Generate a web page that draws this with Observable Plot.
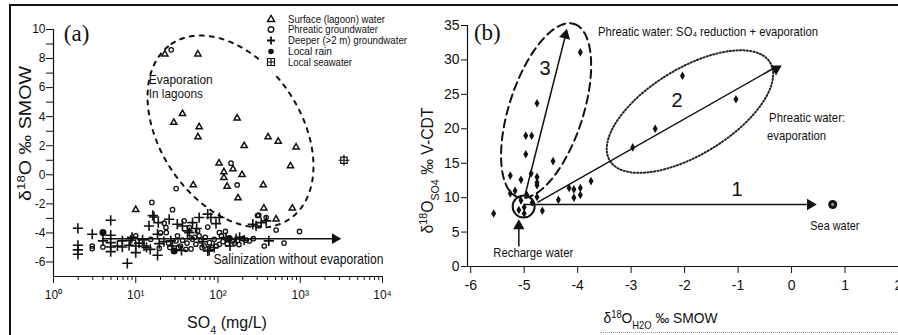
<!DOCTYPE html>
<html><head><meta charset="utf-8">
<script src="https://cdn.jsdelivr.net/npm/d3@7"></script>
<script src="https://cdn.jsdelivr.net/npm/@observablehq/plot@0.6"></script>
<style>
body{margin:0;background:#fff;}
#fig{position:relative;width:898px;height:335px;overflow:hidden;background:#fff;font-family:"Liberation Sans",Arial,sans-serif;color:#111;}
#fig svg{position:absolute;top:0;max-width:none;overflow:visible;background:transparent;}
.ft{position:absolute;left:9px;top:4px;width:889px;border-top:2.5px solid #111;}
.fl{position:absolute;left:9px;top:4px;height:331px;border-left:2.5px solid #111;}
.fb{position:absolute;left:600px;top:332px;width:298px;border-top:1px dotted #999;}
</style></head>
<body><div id="fig"><div class="ft"></div><div class="fl"></div><div class="fb"></div></div>
<script>
// ---------- Panel (a) data: [SO4 mg/L, δ18O ‰ SMOW] ----------
const surfaceWater = [[22.6,8.3],[57,8.3],[37,4.2],[29,3.6],[59,3.3],[57,2.6],[171,3.9],[208,2.0],[406,2.6],[540,2.3],[890,1.9],[760,0.6],[103,0.8],[118,0.2],[152,0.4],[118,-0.2],[196,0.0],[129,-0.8],[50,-0.7],[355,-0.7],[175,-1.6],[10,-2.4],[361,-2.3],[800,-2.3],[509,-3.05]];
const phreaticGW = [[27,8.6],[144,0.8],[171,-0.7],[31,-0.95],[15.7,-1.9],[28,-2.4],[302,-2.8],[509,-3.8],[980,-3.9],[636,-4.7],[365,-4.9],
 [2.96,-4.9],[2.96,-5.08],[3.99,-4.97],[10,-4.2],[15.2,-4.44],[19.3,-5.05],[22.2,-3.33],[23.3,-3.63],[23.5,-3.98],[32.2,-4.2],[30.8,-4.55],[38.8,-3.17],[40.7,-5.13],[44.8,-3.63],[56.4,-3.86],[59,-4.2],[75,-3.6],[104,-3.98],[123,-3.9],[49,-4.44],[53.8,-4.78],[62,-4.55],[68,-4.9],[78.6,-4.67],[90,-4.44],[104,-4.78],[151,-4.55],[240,-4.55],[313,-2.78],[385,-2.94],
 [26,-5.0],[35,-4.9],[45,-4.3],[85,-5.0],[115,-4.6],[180,-4.8],[270,-4.4],[200,-4.4],[20,-4.0],[25,-4.7],[33,-5.0],[37,-4.5],[42,-4.7],[47,-5.1],[52,-4.3],[64,-5.0],[70,-4.3],[95,-4.9],[110,-4.2],[130,-4.75],[160,-4.7],[220,-4.5]];
const deeperGW = [[1.98,-3.68],[1.98,-4.85],[1.98,-5.17],[1.98,-5.47],[2.96,-4.09],[3.99,-4.55],[4.96,-3.13],[4.96,-4.16],[4.96,-4.67],[4.96,-4.97],[4.96,-5.29],[5.98,-4.9],[6.87,-4.55],[6.87,-4.97],[7.9,-6.09],[8.3,-4.85],[8.7,-4.5],[10,-4.9],[10,-5.36],[12.1,-4.48],[12.6,-4.9],[14.5,-3.52],[15,-5.13],[16.7,-2.9],[18.4,-4.09],[19.3,-4.74],[18.4,-5.54],[18.8,-3.29],[25.5,-3.06],[26.7,-4.55],[37,-3.52],[42.6,-3.86],[49,-3.29],[59,-2.94],[44.8,-3.98],[75,-2.71],[82,-2.94],[94.5,-3.36],[104,-2.94],[75,-5.24],[125,-4.32],[166,-4.4],[183,-4.3],[208,-4.5],[415,-4.55],[265,-3.4],[290,-3.52],[335,-3.29],[385,-3.17],[16.1,-2.8],[78,-5.2],
 [9,-4.3],[11,-4.7],[13.5,-5.0],[22,-4.6],[28,-4.9],[32,-3.4],[36,-5.2],[55,-3.7],[65,-4.6],[90,-5.0],[140,-4.9]];
const localRain = [[3.99,-3.98],[29.3,-5.24],[137,-4.39]];
const localSeawater = [[3400,1.0]];
const xTicksA = [1,10,100,1000,10000];
const xTickLabelsA = ["10⁰","10¹","10²","10³","10⁴"];
const yTicksA = [-6,-5,-4,-3,-2,-1,0,1,2,3,4,5,6,7,8,9,10];
const salinizationArrow = [{x1:3.9,y1:-4.4,x2:2650,y2:-4.4}];
const ellipseA = {cx:141.9, cy:2.98, a:105.6, b:70.3, angle:124};
const legendLabels = ["Surface (lagoon) water","Phreatic groundwater","Deeper (>2 m) groundwater","Local rain","Local seawater"];

// ---------- Panel (b) data: [δ18O H2O, δ18O SO4] ----------
const phreaticB = [[-5.57,7.7],[-5.26,13.2],[-5.26,10.6],[-5.17,11.0],[-5.06,12.6],[-5.06,9.6],[-5.0,8.6],[-5.0,7.7],[-4.97,16.3],[-4.97,19.0],[-4.86,19.0],[-4.76,23.7],[-4.87,13.5],[-4.76,13.0],[-4.76,12.2],[-4.76,11.8],[-4.95,10.4],[-4.76,10.1],[-4.66,8.1],[-4.46,15.3],[-4.36,9.7],[-4.16,11.4],[-4.07,11.2],[-4.07,10.0],[-3.95,11.4],[-3.95,10.4],[-3.75,12.4],[-3.95,31.1],[-2.97,17.3],[-2.55,20.0],[-2.04,27.7],[-1.04,24.3],[-4.85,9.3],[-5.1,8.2]];
const seaWaterB = [[0.77,9.0]];
const rechargeB = [[-5.01,8.7]];
const xTicksB = [-6,-5,-4,-3,-2,-1,0,1,2];
const yTicksB = [0,5,10,15,20,25,30,35];
const linesB = [{x1:-5.0,y1:9.0,x2:0.35,y2:9.0},{x1:-4.98,y1:10.5,x2:-4.22,y2:33.8},{x1:-4.75,y1:9.3,x2:-0.31,y2:28.9},{x1:-5.1,y1:2.9,x2:-5.1,y2:5.8}];
const headsB = [{x:0.35,y:9.0,rot:90},{x:-4.23,y:33.6,rot:14},{x:-0.29,y:28.7,rot:180},{x:-5.1,y:5.9,rot:0}];
const ellipse3 = {cx:-4.59, cy:22.65, a:91, b:37, angle:72};
const ellipse2 = {cx:-1.90, cy:22.5, a:94, b:43, angle:31.5};

// target rendered widths (px) of the condensed texts of the scan
const textLengths = {
  "Salinization without evaporation":170, "Evaporation":64, "In lagoons":54,
  "Phreatic water: SO₄ reduction + evaporation":220, "Phreatic water:":76, "evaporation":59,
  "Sea water":49, "Recharge water":80, "δ^{18}O_{H2O} ‰ SMOW":114, "δ^{18}O_{SO4} ‰ V-CDT":126, "δ^{18}O ‰ SMOW":135,
  "Surface (lagoon) water":97, "Phreatic groundwater":90, "Deeper (>2 m) groundwater":119, "Local rain":44, "Local seawater":64
};

const sans = '"Liberation Sans",Arial,sans-serif';
const serif = '"Liberation Serif","Times New Roman",serif';

function ellipsePts(c, kx, ky, logX){
  const pts=[], al=c.angle*Math.PI/180;
  const ux=Math.cos(al), uy=-Math.sin(al), vx=Math.sin(al), vy=Math.cos(al);
  for(let i=0;i<180;i++){
    const t=2*Math.PI*i/180;
    const dx=c.a*Math.cos(t)*ux + c.b*Math.sin(t)*vx;
    const dy=c.a*Math.cos(t)*uy + c.b*Math.sin(t)*vy;
    const x = logX ? Math.pow(10, Math.log10(c.cx)+dx/kx) : c.cx+dx/kx;
    pts.push([x, c.cy - dy/ky]);
  }
  return pts;
}
function finishText(root){
  root.querySelectorAll("text").forEach(t=>{
    const s=t.textContent;
    if(textLengths[s]){ t.setAttribute("textLength", textLengths[s]); t.setAttribute("lengthAdjust","spacingAndGlyphs"); }
    if(!/[_^]\{/.test(s)) return;
    while(t.firstChild) t.removeChild(t.firstChild);
    const re=/([_^])\{([^}]*)\}|([^_^]+)/g; let m;
    while((m=re.exec(s))){
      const ts=document.createElementNS("http://www.w3.org/2000/svg","tspan");
      if(m[1]){ts.textContent=m[2]; ts.style.fontSize="0.68em"; ts.setAttribute("baseline-shift", m[1]==="^"?"super":"sub");}
      else ts.textContent=m[3];
      t.appendChild(ts);
    }
  });
}
const X=d=>d[0], Y=d=>d[1];

// ---------- Panel (a) ----------
const A = {w:450,h:335,ml:53,mr:68,mt:29,mb:59};
const kxA=(A.w-A.ml-A.mr)/4, kyA=(A.h-A.mt-A.mb)/17;
const minorA=[]; for(const p of [1,10,100,1000]) for(let k=2;k<10;k++) minorA.push(k*p);
const plotA = Plot.plot({
  width:A.w,height:A.h,marginLeft:A.ml,marginRight:A.mr,marginTop:A.mt,marginBottom:A.mb,
  x:{type:"log",domain:[1,1e4]}, y:{domain:[-7,10]},
  style:{background:"transparent",fontFamily:sans,color:"#111",overflow:"visible"},
  marks:[
    Plot.axisX({ticks:minorA,tickSize:4,tickFormat:()=>"",label:null}),
    Plot.axisX({ticks:xTicksA,tickSize:7,tickPadding:7,tickFormat:d=>xTickLabelsA[xTicksA.indexOf(d)],label:null,fontSize:12}),
    Plot.axisY({ticks:yTicksA,tickSize:7,tickPadding:1,tickFormat:d=>d%2===0?String(d):"",label:null,fontSize:12}),
    Plot.ruleX([1],{y1:-7,y2:10,stroke:"#111",strokeWidth:1.2}),
    Plot.ruleY([-7],{x1:1,x2:1e4,stroke:"#111",strokeWidth:1.2}),
    Plot.line(ellipsePts(ellipseA,kxA,kyA,true),{x:X,y:Y,curve:"linear-closed",stroke:"#111",strokeWidth:2,strokeDasharray:"4,6"}),
    Plot.link(salinizationArrow,{x1:"x1",y1:"y1",x2:"x2",y2:"y2",stroke:"#111",strokeWidth:1.5}),
    Plot.dot(salinizationArrow,{x:"x2",y:"y2",symbol:"triangle",r:4,rotate:90,fill:"#111"}),
    Plot.dot(surfaceWater,{x:X,y:Y,symbol:"triangle",r:2.3,fill:"none",stroke:"#111",strokeWidth:1.5}),
    Plot.dot(phreaticGW,{x:X,y:Y,symbol:"circle",r:2.2,fill:"none",stroke:"#111",strokeWidth:1.3}),
    Plot.dot(deeperGW,{x:X,y:Y,symbol:"plus",r:3.4,stroke:"#111",strokeWidth:1.6}),
    Plot.dot(localRain,{x:X,y:Y,symbol:"circle",r:2.8,fill:"#111",stroke:"#111"}),
    Plot.dot(localSeawater,{x:X,y:Y,symbol:"square",r:3.6,fill:"none",stroke:"#111",strokeWidth:1.2}),
    Plot.dot(localSeawater,{x:X,y:Y,symbol:"plus",r:3.6,stroke:"#111",strokeWidth:1.2}),
    Plot.text(["(a)"],{x:1.91,y:9.72,fontFamily:serif,fontSize:23,textAnchor:"middle"}),
    Plot.text(["Evaporation","In lagoons"],{x:[14.4,14.4],y:[6.55,5.6],textAnchor:"start",fontSize:13}),
    Plot.text(["Salinization without evaporation"],{x:952,y:-5.83,textAnchor:"middle",fontSize:14}),
    Plot.text(["δ^{18}O ‰ SMOW"],{frameAnchor:"left",textAnchor:"middle",lineAnchor:"middle",rotate:-90,dx:-28,dy:-19.5,fontSize:17}),
    Plot.text(["SO_{4} (mg/L)"],{frameAnchor:"bottom",textAnchor:"middle",lineAnchor:"middle",dx:9,dy:46,fontSize:16})
  ]
});
plotA.style.left="0px";
finishText(plotA);

// ---------- Panel (b) ----------
const B = {w:498,h:335,ml:67,mr:0,mt:25,mb:69};
const xDomB=[-6.06,2], yDomB=[0,35];
const kxB=(B.w-B.ml-B.mr)/(xDomB[1]-xDomB[0]), kyB=(B.h-B.mt-B.mb)/(yDomB[1]-yDomB[0]);
const plotB = Plot.plot({
  width:B.w,height:B.h,marginLeft:B.ml,marginRight:B.mr,marginTop:B.mt,marginBottom:B.mb,
  x:{domain:xDomB}, y:{domain:yDomB},
  style:{background:"transparent",fontFamily:sans,color:"#111",overflow:"visible"},
  marks:[
    Plot.axisX({ticks:xTicksB,tickSize:7,tickPadding:7,tickFormat:d=>String(d),label:null,fontSize:14}),
    Plot.axisY({ticks:yTicksB,tickSize:6,tickPadding:2,tickFormat:d=>String(d),label:null,fontSize:14}),
    Plot.ruleX([xDomB[0]],{y1:0,y2:35,stroke:"#111",strokeWidth:1.2}),
    Plot.ruleY([0],{x1:xDomB[0],x2:2,stroke:"#111",strokeWidth:1.2}),
    Plot.line(ellipsePts(ellipse3,kxB,kyB,false),{x:X,y:Y,curve:"linear-closed",stroke:"#111",strokeWidth:2,strokeDasharray:"8,5"}),
    Plot.line(ellipsePts(ellipse2,kxB,kyB,false),{x:X,y:Y,curve:"linear-closed",stroke:"#222",strokeWidth:2,strokeDasharray:"1.2,2.2"}),
    Plot.link(linesB,{x1:"x1",y1:"y1",x2:"x2",y2:"y2",stroke:"#111",strokeWidth:1.5}),
    Plot.dot(headsB,{x:"x",y:"y",rotate:"rot",symbol:"triangle",r:4.2,fill:"#111"}),
    Plot.dot(rechargeB,{x:X,y:Y,r:11,fill:"none",stroke:"#111",strokeWidth:2}),
    Plot.dot(phreaticB,{x:X,y:Y,symbol:"diamond",r:2.6,fill:"#111"}),
    Plot.dot(seaWaterB,{x:X,y:Y,r:4.5,fill:"#111"}),
    Plot.dot(seaWaterB,{x:X,y:Y,r:1.7,fill:"#888"}),
    Plot.text(["(b)"],{x:-5.69,y:34.0,fontFamily:serif,fontSize:23,textAnchor:"middle"}),
    Plot.text(["3","2","1"],{x:[-4.61,-2.14,-1.02],y:[28.7,24.1,11.2],fontSize:20,textAnchor:"middle"}),
    Plot.text(["Phreatic water: SO₄ reduction + evaporation","Phreatic water:","evaporation"],{x:[-3.62,-0.42,-0.46],y:[34.1,21.6,19.0],textAnchor:"start",fontSize:13.5}),
    Plot.text(["Sea water","Recharge water"],{x:[0.81,-4.83],y:[5.95,2.03],textAnchor:"middle",fontSize:13.5}),
    Plot.text(["δ^{18}O_{SO4} ‰ V-CDT"],{frameAnchor:"left",textAnchor:"middle",lineAnchor:"middle",rotate:-90,dx:-40,dy:24.5,fontSize:17}),
    Plot.text(["δ^{18}O_{H2O} ‰ SMOW"],{frameAnchor:"bottom",textAnchor:"middle",lineAnchor:"middle",dx:-22.5,dy:52,fontSize:15})
  ]
});
plotB.style.left="400px";
finishText(plotB);

const fig=document.getElementById("fig");
fig.appendChild(plotA); fig.appendChild(plotB);

// ---------- Legend (a) ----------
const lg=d3.select(fig).append("svg").attr("width",150).attr("height",64)
  .style("left","262px").style("top","9px").attr("font-family",sans).attr("font-size",11).attr("fill","#111");
lg.append("rect").attr("width",150).attr("height",64).attr("fill","#fff");
const rowsY=[10,20.5,31.5,42.5,53];
const symX=9;
const g=lg.selectAll("g").data(legendLabels).join("g").attr("transform",(d,i)=>`translate(0,${rowsY[i]})`);
g.append("text").attr("x",26).attr("dy","0.35em").text(d=>d)
  .attr("textLength",d=>textLengths[d]).attr("lengthAdjust","spacingAndGlyphs");
const sy=lg.selectAll("g");
sy.filter((d,i)=>i===0).append("path").attr("d",d3.symbol(d3.symbolTriangle,22)()).attr("transform",`translate(${symX},0.5)`).attr("fill","none").attr("stroke","#111").attr("stroke-width",1.4);
sy.filter((d,i)=>i===1).append("circle").attr("cx",symX).attr("r",2.8).attr("fill","none").attr("stroke","#111").attr("stroke-width",1.4);
sy.filter((d,i)=>i===2).append("path").attr("d",`M${symX},-4V4M${symX-4},0H${symX+4}`).attr("stroke","#111").attr("stroke-width",1.8);
sy.filter((d,i)=>i===3).append("circle").attr("cx",symX).attr("r",2.8).attr("fill","#111");
sy.filter((d,i)=>i===4).append("path").attr("d",`M${symX-3.5},-3.5h7v7h-7zM${symX},-3.5v7M${symX-3.5},0h7`).attr("fill","none").attr("stroke","#111").attr("stroke-width",1.2);
</script></body></html>
